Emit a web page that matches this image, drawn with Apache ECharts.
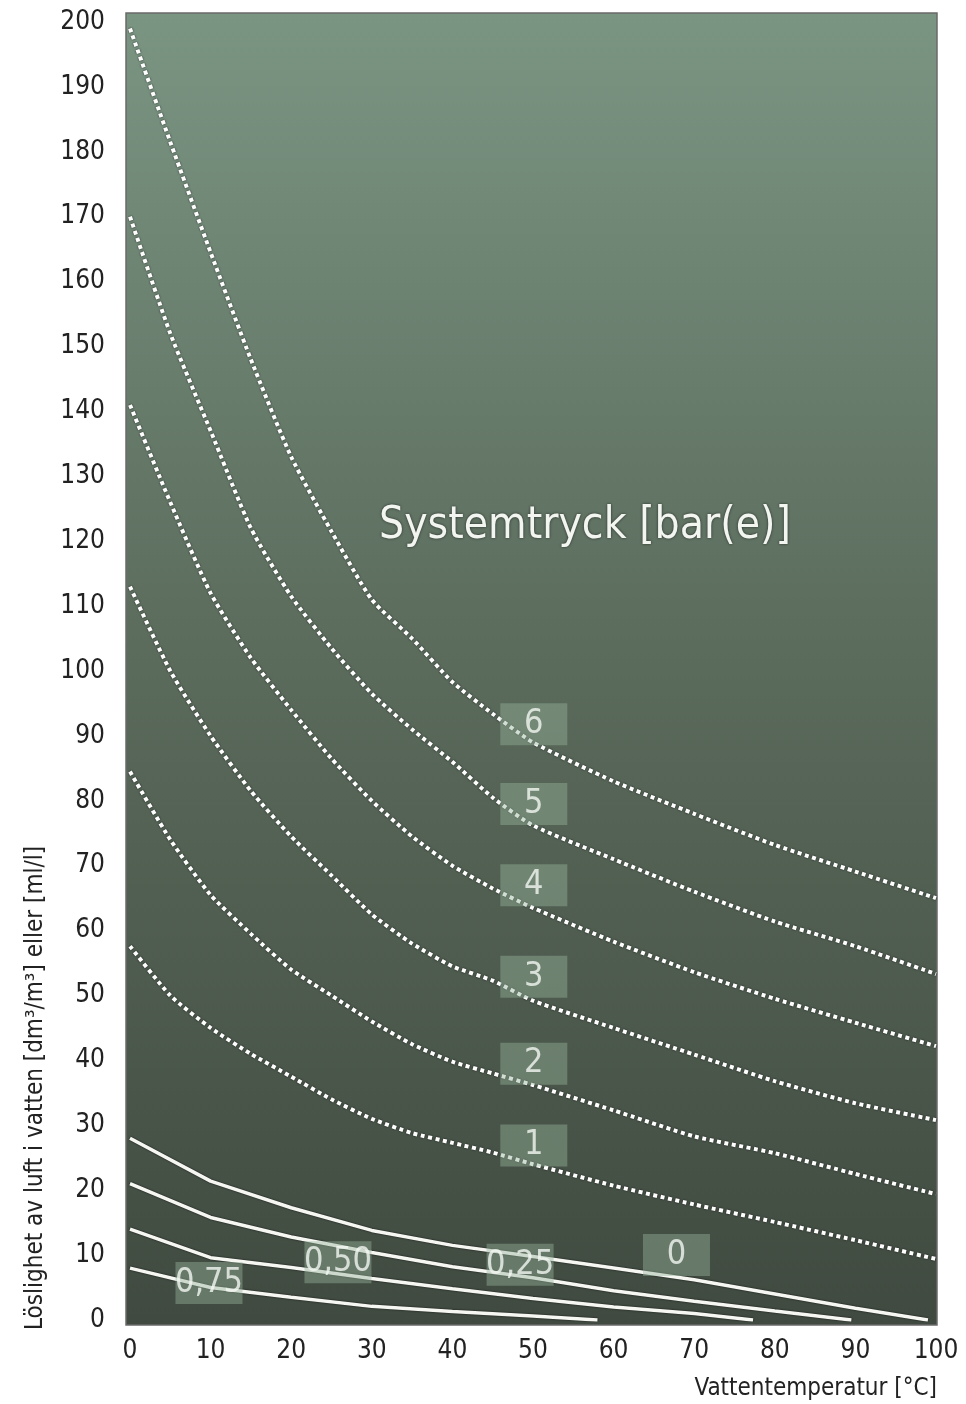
<!DOCTYPE html>
<html>
<head>
<meta charset="utf-8">
<title>Löslighet av luft i vatten</title>
<script src="https://cdn.jsdelivr.net/npm/echarts@6/dist/echarts.min.js"></script>
<style>
  html, body { margin: 0; padding: 0; background: #fff; }
  #main { width: 966px; height: 1404px; }
</style>
</head>
<body>
<div id="main"></div>
<script>
const FONT = "'Liberation Sans Narrow', 'DejaVu Sans Condensed', 'Roboto', sans-serif"

// Systemtryck 1..6 bar(e), streckade kurvor
const tempDotted = [0, 5, 10, 15, 20, 25, 30, 35, 40, 45, 50, 60, 70, 80, 90, 100]
const p6 = [199, 181.5, 164.5, 148, 133, 121.5, 111, 105, 98.3, 93.4, 89, 83, 78, 73.2, 69.1, 65]
const p5 = [170, 152, 137, 122, 111.5, 103.5, 96.5, 91, 86, 80.5, 76.2, 71, 66, 61.4, 57.6, 53.3]
const p4 = [141, 126, 112, 102, 94, 86.5, 80, 74.5, 70, 66.5, 63.5, 58.3, 53.6, 49.5, 45.8, 42.2]
const p3 = [113, 100, 90, 81.5, 74.5, 68.5, 62.5, 58, 54.5, 52.3, 49.2, 45, 40.9, 36.8, 33.4, 30.8]
const p2 = [84.5, 74, 65.5, 59.5, 54, 50, 46, 42.5, 39.8, 38, 36.2, 32.3, 28.3, 25.7, 22.5, 19.4]
const p1 = [57.6, 50, 45, 41, 37.5, 34, 31, 28.8, 27.3, 25.8, 24, 20.7, 17.8, 15.1, 12.3, 9.4]

// Systemtryck 0..0,75, heldragna kurvor
const temp0 = [0, 10, 20, 30, 40, 50, 60, 70, 80, 90, 99]
const p0 = [28, 21.4, 17.3, 13.8, 11.5, 9.8, 8, 6.2, 4, 1.8, 0]
const temp025 = [0, 10, 20, 30, 40, 50, 60, 70, 80, 89.5]
const p025 = [21, 15.8, 12.8, 10.4, 8.2, 6.5, 4.5, 2.9, 1.4, 0]
const temp050 = [0, 10, 20, 30, 40, 50, 60, 70, 77.3]
const p050 = [14, 9.6, 8.1, 6.4, 4.8, 3.3, 2, 1, 0]
const temp075 = [0, 10, 20, 30, 40, 50, 58]
const p075 = [8, 5, 3.5, 2.1, 1.3, 0.6, 0]

// etiketter på kurvorna
const labelText = ['6', '5', '4', '3', '2', '1', '0', '0,25', '0,50', '0,75']
const labelX = [50.1, 50.1, 50.1, 50.1, 50.1, 50.1, 67.8, 48.4, 25.8, 9.8]
const labelY = [91.8, 79.5, 67, 52.9, 39.5, 26.9, 10, 8.5, 8.9, 5.7]

const xTicks = [0, 10, 20, 30, 40, 50, 60, 70, 80, 90, 100]

const zip = (xs, ys) => xs.map((x, i) => [x, ys[i]])

const chart = echarts.init(document.getElementById('main'))

const dotted = [p6, p5, p4, p3, p2, p1].map(ys => ({
  type: 'line',
  data: zip(tempDotted, ys),
  showSymbol: false,
  smooth: 0.2,
  z: 3,
  lineStyle: {
    color: '#ffffff',
    width: 4,
    type: [4, 3.5],
    cap: 'butt',
    shadowColor: 'rgba(0,0,0,0.75)',
    shadowBlur: 2
  }
}))

const solid = [[temp0, p0], [temp025, p025], [temp050, p050], [temp075, p075]].map(([xs, ys]) => ({
  type: 'line',
  data: zip(xs, ys),
  showSymbol: false,
  z: 3,
  lineStyle: {
    color: '#f6f7f3',
    width: 3.5,
    shadowColor: 'rgba(0,0,0,0.8)',
    shadowBlur: 2
  }
}))

const option = {
  animation: false,
  grid: { left: 130, right: 30, top: 22, bottom: 84 },
  xAxis: {
    type: 'value',
    min: 0,
    max: 100,
    interval: 10,
    axisLine: { show: false },
    axisTick: { show: false },
    splitLine: { show: false },
    axisLabel: {
      margin: 18,
      fontSize: 26,
      fontFamily: FONT,
      color: '#222',
      customValues: xTicks
    }
  },
  yAxis: {
    type: 'value',
    min: 0,
    max: 200,
    interval: 10,
    axisLine: { show: false },
    axisTick: { show: false },
    splitLine: { show: false },
    axisLabel: {
      margin: 25,
      fontSize: 26,
      fontFamily: FONT,
      color: '#222'
    }
  },
  graphic: [
    {
      type: 'rect',
      z: -10,
      shape: { x: 126, y: 13, width: 811, height: 1312 },
      style: {
        fill: new echarts.graphic.LinearGradient(0, 0, 0, 1, [
          { offset: 0, color: '#7b9583' },
          { offset: 0.5, color: '#5a6a5b' },
          { offset: 1, color: '#404a40' }
        ]),
        stroke: '#6a6a6a',
        lineWidth: 1.5
      }
    },
    {
      type: 'text',
      z: 5,
      x: 585,
      y: 527,
      style: {
        text: 'Systemtryck [bar(e)]',
        fontSize: 44,
        fontFamily: FONT,
        fill: '#f2f5f0',
        align: 'center',
        verticalAlign: 'middle',
        textShadowColor: 'rgba(0,0,0,0.6)',
        textShadowBlur: 3
      }
    },
    {
      type: 'text',
      x: 937,
      y: 1389,
      style: {
        text: 'Vattentemperatur [°C]',
        fontSize: 24,
        fontFamily: FONT,
        fill: '#222',
        align: 'right',
        verticalAlign: 'middle'
      }
    },
    {
      type: 'text',
      x: 36,
      y: 1330,
      rotation: Math.PI / 2,
      style: {
        text: 'Löslighet av luft i vatten [dm³/m³] eller [ml/l]',
        fontSize: 24,
        fontFamily: FONT,
        fill: '#222',
        align: 'left',
        verticalAlign: 'middle'
      }
    }
  ],
  series: [
    ...dotted,
    ...solid,
    {
      type: 'scatter',
      z: 4,
      data: labelX.map((x, i) => ({ value: [x, labelY[i]], name: labelText[i] })),
      symbol: 'rect',
      symbolSize: [67, 42],
      itemStyle: { color: 'rgba(150,180,155,0.55)' },
      label: {
        show: true,
        position: 'inside',
        formatter: p => p.name,
        fontSize: 34,
        fontFamily: FONT,
        color: '#f4f7f3'
      },
      emphasis: { disabled: true }
    }
  ]
}

chart.setOption(option)
</script>
</body>
</html>
